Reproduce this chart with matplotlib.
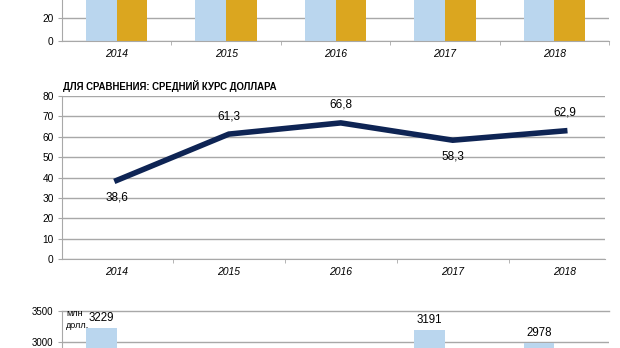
import matplotlib.pyplot as plt
import numpy as np

plt.rcParams['font.family'] = ['Liberation Sans', 'DejaVu Sans']

# === Data ===
years = ['2014', '2015', '2016', '2017', '2018']
# upper bar chart (only the bottom part is visible, values cut off)
top_blue = [52, 55, 57, 54, 58]
top_gold = [50, 53, 55, 52, 56]
# average dollar rate
usd_rate = [38.6, 61.3, 66.8, 58.3, 62.9]
usd_above = [False, True, True, False, True]
# lower bar chart, mln dollars (only the top part is visible)
low_blue = [3229, 2750, 2850, 3191, 2978]
low_gold = [2400, 2300, 2350, 2450, 2400]
low_shown = [True, False, False, True, True]

BLUE = '#bad6ee'
GOLD = '#dba61f'
NAVY = '#0e2454'
GRID = '#a8a8a8'

W, H = 620, 348


def box(l, t, r, b):
    return [l / W, 1 - b / H, (r - l) / W, (b - t) / H]


def style(ax):
    for s in ['top', 'right']:
        ax.spines[s].set_visible(False)
    for s in ['left', 'bottom']:
        ax.spines[s].set_color(GRID)
    ax.yaxis.grid(True, color=GRID, lw=1)
    ax.set_axisbelow(True)
    ax.tick_params(axis='y', length=3, color=GRID, labelsize=7.3, pad=3)
    ax.tick_params(axis='x', which='major', length=0, labelsize=7.5, pad=6)
    ax.tick_params(axis='x', which='minor', length=3, color=GRID)
    for lab in ax.get_xticklabels():
        lab.set_style('italic')


fig = plt.figure(figsize=(6.2, 3.48), dpi=100)
x = np.arange(len(years))

# === Upper bar chart ===
ax1 = fig.add_axes(box(62, -28, 609, 41))
ax1.bar(x - 0.14, top_blue, width=0.28, color=BLUE)
ax1.bar(x + 0.14, top_gold, width=0.28, color=GOLD)
ax1.set_xlim(-0.5, 4.5)
ax1.set_ylim(0, 60)
ax1.set_yticks([0, 20])
ax1.set_xticks(x)
ax1.set_xticklabels(years)
ax1.set_xticks(np.arange(0.5, 4.6, 1), minor=True)
style(ax1)

# === Line chart ===
ax2 = fig.add_axes(box(62, 96, 605, 259))
ax2.plot(x, usd_rate, color=NAVY, lw=4, solid_joinstyle='miter')
for xi, v, up in zip(x, usd_rate, usd_above):
    ax2.annotate(f'{v:.1f}'.replace('.', ','), (xi, v),
                 xytext=(0, 13 if up else -12), textcoords='offset points',
                 ha='center', va='center', fontsize=8.5)
ax2.set_xlim(-0.49, 4.36)
ax2.set_ylim(0, 80)
ax2.set_yticks(range(0, 81, 10))
ax2.set_xticks(x)
ax2.set_xticklabels(years)
ax2.set_xticks(np.arange(0.5, 3.6, 1), minor=True)
style(ax2)
fig.text(63 / W, 1 - 86 / H, 'ДЛЯ СРАВНЕНИЯ: СРЕДНИЙ КУРС ДОЛЛАРА',
         fontsize=6.9, fontweight='bold', va='center', ha='left')

# === Lower bar chart ===
ax3 = fig.add_axes(box(62, 311, 609, 373))
ax3.bar(x - 0.14, low_blue, width=0.28, color=BLUE)
ax3.bar(x + 0.14, low_gold, width=0.28, color=GOLD)
for xi, v, shown in zip(x, low_blue, low_shown):
    if shown:
        ax3.annotate(str(v), (xi - 0.14, v), xytext=(0, 3),
                     textcoords='offset points', ha='center', va='bottom',
                     fontsize=8.3)
ax3.set_xlim(-0.5, 4.5)
ax3.set_ylim(2500, 3500)
ax3.set_yticks([3000, 3500])
ax3.set_xticks([])
style(ax3)
ax3.tick_params(axis='y', labelsize=7)
ax3.yaxis.get_gridlines()[-1].set_clip_on(False)
fig.text(66 / W, 1 - 313 / H, 'млн', fontsize=6.5, va='center')
fig.text(66 / W, 1 - 325 / H, 'долл.', fontsize=6.5, va='center')

fig.savefig('out.png', dpi=100, facecolor='white')
